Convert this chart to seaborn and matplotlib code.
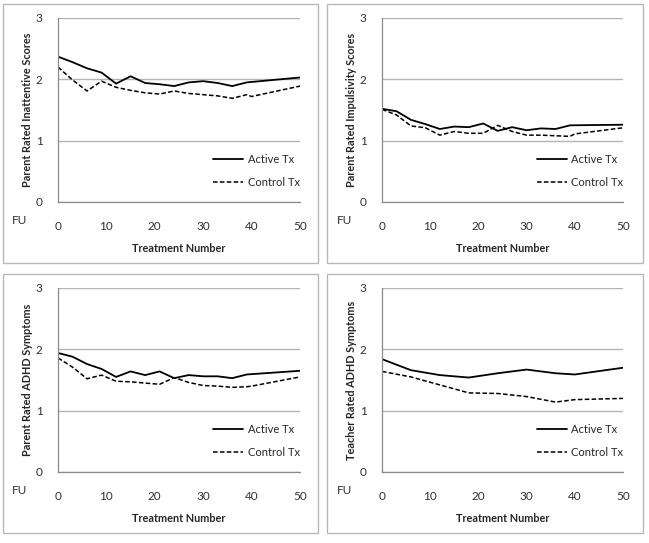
import numpy as np
import pandas as pd
import matplotlib
matplotlib.use('Agg')
import matplotlib.pyplot as plt
import seaborn as sns
from matplotlib.ticker import MultipleLocator
from matplotlib.patches import Rectangle

# session numbers
x_active = [0, 3, 6, 9, 12, 15, 18, 21, 24, 27, 30, 33, 36, 39, 50]
x_control = [0, 3, 6, 9, 12, 15, 18, 21, 24, 27, 30, 33, 36, 39, 40, 50]
x_teacher = [0, 6, 12, 18, 24, 30, 36, 40, 50]

inatt_active = [2.37, 2.28, 2.18, 2.11, 1.93, 2.05, 1.94, 1.92, 1.89, 1.95, 1.97, 1.94, 1.89, 1.95, 2.03]
inatt_control = [2.20, 1.99, 1.81, 1.97, 1.87, 1.82, 1.78, 1.76, 1.81, 1.77, 1.75, 1.73, 1.69, 1.75, 1.72, 1.89]

impul_active = [1.52, 1.48, 1.34, 1.27, 1.19, 1.23, 1.22, 1.28, 1.16, 1.22, 1.17, 1.20, 1.19, 1.25, 1.26]
impul_control = [1.51, 1.42, 1.24, 1.21, 1.09, 1.15, 1.12, 1.12, 1.25, 1.15, 1.09, 1.09, 1.08, 1.07, 1.11, 1.21]

adhd_active = [1.94, 1.88, 1.76, 1.68, 1.55, 1.64, 1.58, 1.64, 1.53, 1.58, 1.56, 1.56, 1.53, 1.59, 1.65]
adhd_control = [1.86, 1.71, 1.52, 1.58, 1.48, 1.47, 1.45, 1.43, 1.54, 1.46, 1.41, 1.40, 1.38, 1.39, 1.40, 1.55]

teacher_active = [1.84, 1.66, 1.58, 1.54, 1.61, 1.67, 1.61, 1.59, 1.70]
teacher_control = [1.64, 1.55, 1.42, 1.29, 1.28, 1.23, 1.14, 1.18, 1.20]

panels = [
    ('Parent Rated Inattentive Scores', x_active, inatt_active, x_control, inatt_control),
    ('Parent Rated Impulsivity Scores', x_active, impul_active, x_control, impul_control),
    ('Parent Rated ADHD Symptoms', x_active, adhd_active, x_control, adhd_control),
    ('Teacher Rated ADHD Symptoms', x_teacher, teacher_active, x_teacher, teacher_control),
]

sns.set_style('white')
plt.rcParams['font.family'] = ['Lato', 'DejaVu Sans']

W, H = 649, 543
fig = plt.figure(figsize=(W / 100, H / 100), dpi=100)

# axes boxes in pixels: left, top, right, bottom
boxes = [(58, 18, 300, 202), (382, 18, 623, 202), (58, 288, 300, 472), (382, 288, 623, 472)]
frames = [(3, 4, 318, 263), (327, 4, 643, 263), (3, 274, 318, 533), (327, 274, 643, 533)]

for (l, t, r, b) in frames:
    fig.patches.append(Rectangle((l / W, 1 - b / H), (r - l) / W, (b - t) / H,
                                 transform=fig.transFigure, fill=False,
                                 edgecolor='#b8b8b8', linewidth=1.0))

for (ylab, xa, ya, xc, yc), (l, t, r, b) in zip(panels, boxes):
    ax = fig.add_axes([l / W, 1 - b / H, (r - l) / W, (b - t) / H])
    df_a = pd.DataFrame({'x': xa, 'y': ya})
    df_c = pd.DataFrame({'x': xc, 'y': yc})
    sns.lineplot(data=df_a, x='x', y='y', ax=ax, color='black', linewidth=1.3, label='Active Tx')
    sns.lineplot(data=df_c, x='x', y='y', ax=ax, color='black', linewidth=1.1,
                 linestyle=(0, (3, 1.5)), label='Control Tx')

    ax.set_xlim(0, 50)
    ax.set_ylim(0, 3)
    ax.xaxis.set_major_locator(MultipleLocator(10))
    ax.xaxis.set_minor_locator(MultipleLocator(1))
    ax.yaxis.set_major_locator(MultipleLocator(1))
    ax.yaxis.set_minor_locator(MultipleLocator(0.1))

    ax.grid(axis='y', color='#b4b4b4', linewidth=1.0)
    ax.get_ygridlines()[-1].set_visible(False)
    ax.get_ygridlines()[0].set_visible(False)

    for s in ['top', 'right']:
        ax.spines[s].set_visible(False)
    for s in ['left', 'bottom']:
        ax.spines[s].set_color('#8a8a8a')
        ax.spines[s].set_linewidth(0.9)

    ax.tick_params(axis='both', which='major', direction='out', length=3, width=0.8,
                   color='#8a8a8a', labelsize=8.5, labelcolor='#303030')
    ax.tick_params(axis='both', which='minor', direction='out', length=2, width=0.6,
                   color='#8a8a8a')
    ax.tick_params(axis='x', which='major', pad=10.5)
    ax.tick_params(axis='y', which='major', pad=8)

    ax.set_xlabel('Treatment Number', fontsize=7.8, fontweight='bold', labelpad=8)
    ax.set_ylabel(ylab, fontsize=7.8, fontweight='bold', labelpad=2)
    ax.text(-38 / (r - l), -19 / (b - t), 'FU', transform=ax.transAxes, fontsize=8.5,
            color='#303030', ha='center', va='center')

    ax.legend(loc='lower left', bbox_to_anchor=(0.60, 0.02), frameon=False,
              fontsize=8, handlelength=2.7, labelspacing=1.1, handletextpad=0.4)

fig.savefig('out.png', dpi=100)
